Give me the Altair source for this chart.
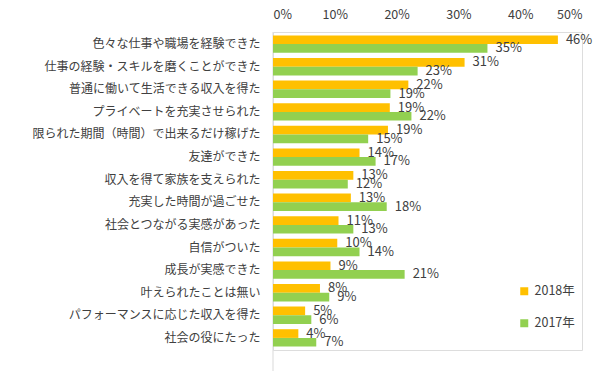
import altair as alt
import pandas as pd

categories = [
    "色々な仕事や職場を経験できた",
    "仕事の経験・スキルを磨くことができた",
    "普通に働いて生活できる収入を得た",
    "プライベートを充実させられた",
    "限られた期間（時間）で出来るだけ稼げた",
    "友達ができた",
    "収入を得て家族を支えられた",
    "充実した時間が過ごせた",
    "社会とつながる実感があった",
    "自信がついた",
    "成長が実感できた",
    "叶えられたことは無い",
    "パフォーマンスに応じた収入を得た",
    "社会の役にたった",
]
series = ["2018年", "2017年"]
v2018 = [46.1, 31.0, 21.9, 18.9, 18.6, 14.0, 13.0, 12.6, 10.6, 10.4, 9.3, 7.6, 5.2, 4.1]
v2017 = [34.7, 23.4, 19.0, 22.4, 15.4, 16.6, 12.1, 18.4, 13.0, 14.0, 21.3, 9.1, 6.2, 7.0]
x_ticks = [0, 10, 20, 30, 40, 50]
colors = ["#FFC000", "#92D050"]

rows = []
for c, a, b in zip(categories, v2018, v2017):
    rows.append({"cat": c, "series": series[0], "value": a, "label": f"{round(a)}%"})
    rows.append({"cat": c, "series": series[1], "value": b, "label": f"{round(b)}%"})
df = pd.DataFrame(rows)

FONT = "Noto Sans CJK JP"
TXT = "#404040"

y_enc = alt.Y(
    "cat:N",
    sort=categories,
    scale=alt.Scale(paddingInner=0.23, paddingOuter=0.15),
    axis=alt.Axis(
        title=None, domain=False, ticks=False, labelPadding=13,
        labelFontSize=12, labelFont=FONT, labelColor=TXT, labelLimit=400,
    ),
)
yoff = alt.YOffset("series:N", sort=series, scale=alt.Scale(domain=series, paddingInner=0))
x_scale = alt.Scale(domain=[0, 50])

base = alt.Chart(df).encode(y=y_enc, yOffset=yoff)

bars = base.mark_bar().encode(
    x=alt.X(
        "value:Q", scale=x_scale,
        axis=alt.Axis(
            orient="top", values=x_ticks, labelExpr="datum.value + '%'",
            grid=False, domain=False, ticks=False, title=None,
            labelFontSize=12.5, labelFont=FONT, labelColor=TXT, labelPadding=11,
        ),
    ),
    color=alt.Color(
        "series:N", sort=series,
        scale=alt.Scale(domain=series, range=colors),
        legend=alt.Legend(
            title=None, orient="none", legendX=245, legendY=253,
            symbolType="square", symbolSize=64, symbolStrokeWidth=0,
            labelFontSize=12.5, labelFont=FONT, labelColor=TXT, rowPadding=19,
        ),
    ),
)

text = base.mark_text(align="left", baseline="middle", dx=8, fontSize=13, font=FONT, color=TXT).encode(
    x=alt.X("value:Q", scale=x_scale),
    text="label:N",
)

axis_line = alt.Chart(pd.DataFrame({"v": [0]})).mark_rule(color="#D9D9D9", strokeWidth=1).encode(
    x=alt.X("v:Q", scale=x_scale), y=alt.value(0), y2=alt.value(339)
)

chart = alt.layer(axis_line, bars, text).properties(
    width=309, height=318,
    padding={"left": 23, "top": 0, "right": 5, "bottom": 5},
).configure_view(stroke=None).configure(font=FONT)

chart.save("out.html", embed_options={"renderer": "svg", "actions": False})
